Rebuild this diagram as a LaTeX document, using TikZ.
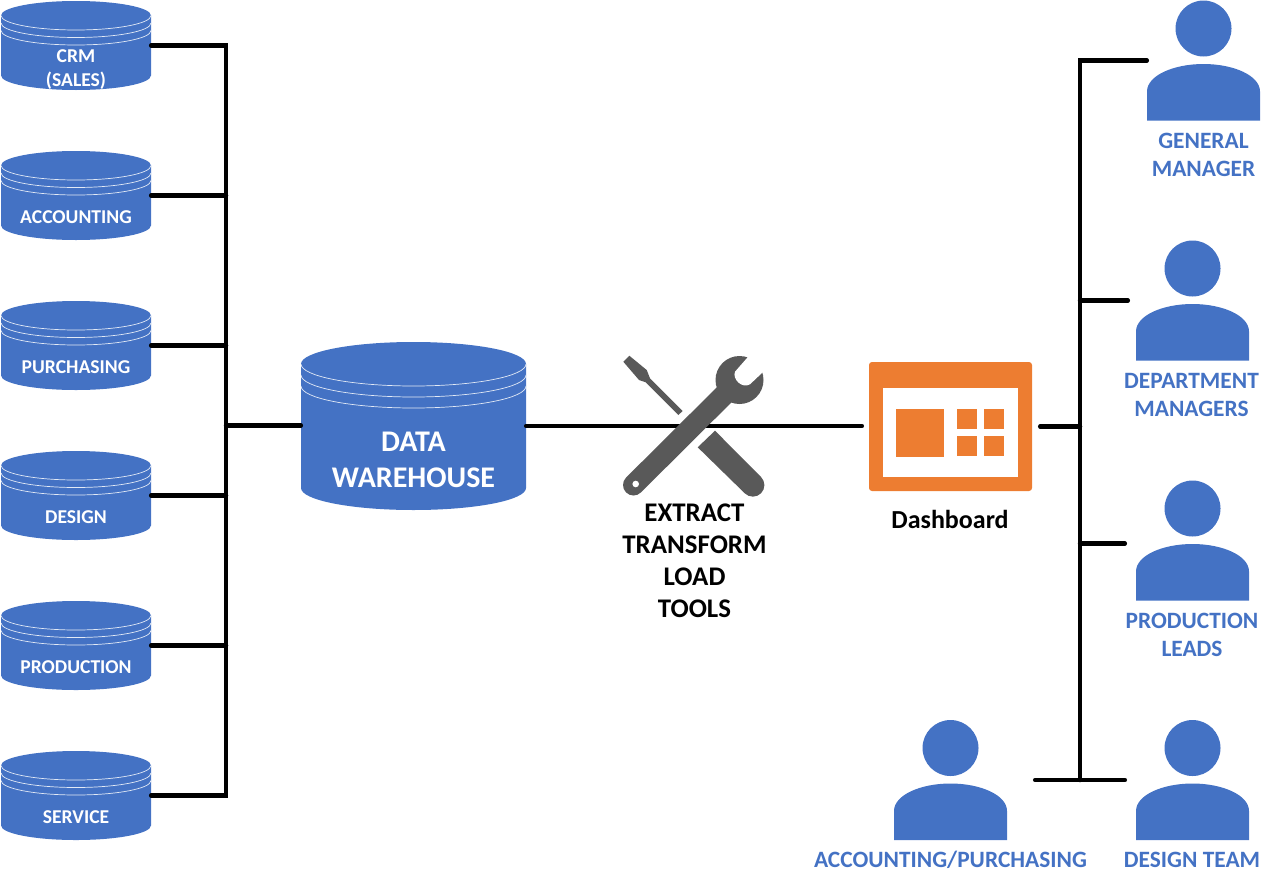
\documentclass[tikz,border=0pt]{standalone}
\usepackage{fontspec}
\setmainfont{Carlito}
\usepackage{tikz}
\usetikzlibrary{calc}
\definecolor{dbblue}{HTML}{4472C4}
\definecolor{dashorange}{HTML}{ED7D31}
\definecolor{toolgray}{HTML}{595959}
\newcommand{\dbshape}[4]{
	\begin{scope}[shift={(path picture bounding box.center)}]
		\fill[dbblue] (-#1,#2-#3) arc[x radius=#1,y radius=#3,start angle=180,end angle=0]
			-- (#1,-#2+#3) arc[x radius=#1,y radius=#3,start angle=0,end angle=-180] -- cycle;
		\foreach \k in {0,1,2}
			\draw[white!85!dbblue,line width=0.7pt] (-#1,#2-#3-\k*#4) arc[x radius=#1,y radius=#3,start angle=180,end angle=360];
	\end{scope}
}
\newcommand{\personshape}{
	\begin{scope}[shift={(path picture bounding box.center)}]
		\fill[dbblue] (0,32) circle[radius=28];
		\fill[dbblue] (-56.5,-60) -- (-56.5,-31) .. controls (-56.5,-15) and (-30,-3.5) .. (0,-3.5)
			.. controls (30,-3.5) and (56.5,-15) .. (56.5,-31) -- (56.5,-60) -- cycle;
	\end{scope}
}
\begin{document}
\begin{tikzpicture}[x=1pt,y=1pt,line cap=butt]

	\tikzstyle{db}=[rectangle,inner sep=0pt,minimum width=150pt,minimum height=89pt,path picture={\dbshape{75}{44.5}{14.5}{7.5}}]
	\tikzstyle{bigdb}=[rectangle,inner sep=0pt,minimum width=225pt,minimum height=168pt,path picture={\dbshape{112.5}{84}{22}{11}}]
	\tikzstyle{person}=[rectangle,inner sep=0pt,minimum width=113pt,minimum height=120pt,path picture={\personshape}]
	\tikzstyle{dblabel}=[text=white,font=\fontsize{19.6}{23.5}\selectfont\bfseries,align=center,inner sep=0pt]
	\tikzstyle{biglabel}=[text=white,font=\fontsize{30}{36}\selectfont\bfseries,align=center,inner sep=0pt]
	\tikzstyle{userlabel}=[text=dbblue,font=\fontsize{23.4}{28}\selectfont\bfseries,align=center,inner sep=0pt]
	\tikzstyle{blacklabel}=[text=black,font=\fontsize{26.9}{32}\selectfont\bfseries,align=center,inner sep=0pt]
	\tikzstyle{bus}=[draw=black,line width=4.5pt,line cap=round,line join=miter]

	\useasboundingbox (0,0) rectangle (1273,-886);

	\foreach \name/\ypos/\laby/\lab in {crm/45/69.5/{CRM\\(SALES)},acct/195/217.5/ACCOUNTING,purch/345/367.5/PURCHASING,design/495/517.5/DESIGN,prod/645/667.5/PRODUCTION,svc/795/817/SERVICE} {
		\node [db] (\name) at (76,-\ypos-0.5) {};
		\node [dblabel] (\name-text) at (76,-\laby) {\lab};
	}

	\node [bigdb] (dw) at (413.5,-426) {};
	\node [biglabel] (dw-text) at (413.5,-459.5) {DATA\\WAREHOUSE};

	\node [rectangle,fill=dashorange,rounded corners=3pt,minimum width=163pt,minimum height=129pt,inner sep=0pt] (dash) at (950.5,-426.5) {};
	\node [rectangle,fill=white,minimum width=135pt,minimum height=89pt,inner sep=0pt] (dash-win) at (950.5,-432.5) {};
	\node [rectangle,fill=dashorange,minimum size=48pt,inner sep=0pt] (dash-big) at (920,-433) {};
	\foreach \name/\xpos/\ypos in {a/967/-419.3,b/994.3/-419.3,c/967/-446,d/994.3/-446}
		\node [rectangle,fill=dashorange,minimum size=20pt,inner sep=0pt] (dash-\name) at (\xpos,\ypos) {};
	\node [blacklabel,font=\fontsize{26}{28}\selectfont\bfseries] (dash-text) at (950,-519.5) {Dashboard};

	\node [person] (gm) at (1203.5,-60.5) {};
	\node [person] (dm) at (1192.5,-300.5) {};
	\node [person] (pl) at (1192.5,-540.5) {};
	\node [person] (dt) at (1192.5,-780) {};
	\node [person] (ap) at (950.5,-780) {};

	\node [userlabel] (gm-text) at (1203.5,-155) {GENERAL\\MANAGER};
	\node [userlabel] (dm-text) at (1191.5,-395) {DEPARTMENT\\MANAGERS};
	\node [userlabel] (pl-text) at (1192,-635) {PRODUCTION\\LEADS};
	\node [userlabel] (dt-text) at (1192,-860) {DESIGN TEAM};
	\node [userlabel] (ap-text) at (950.5,-860) {ACCOUNTING/PURCHASING};

	\coordinate (lbus) at (226,-425.5);
	\coordinate (rbus) at (1080,-425.5);

	\draw [bus] (crm.east) -| (lbus) |- (svc.east);
	\foreach \name in {acct,purch,design,prod}
		\draw [bus] (\name.east) -- (\name.east -| lbus);
	\draw [bus] (lbus) -- (lbus -| dw.west);
	\draw [bus,shorten >=7pt] (dw.east) -- (dw.east -| dash.west);
	\draw [bus,shorten <=8pt] (dash.east) -- (dash.east -| rbus);
	\draw [bus] (gm.west) -| (rbus) -- (rbus |- dt.west);
	\draw [bus,shorten <=8pt] (dm.west) -- (dm.west -| rbus);
	\draw [bus,shorten <=11pt] ([yshift=-3pt]pl.west) -- ([yshift=-3pt]pl.west -| rbus);
	\draw [bus,shorten <=28pt,shorten >=11pt] (ap.east) -- (dt.west);

	\fill [toolgray] (623.3,-361.7) -- (629.3,-355.7) -- (646.7,-370) -- (650,-378.3) -- (682.7,-411) -- (678.3,-415) -- (645.7,-382.3) -- (639,-380) -- cycle;
	\fill [toolgray] (715,-430.7) -- (761,-477) arc[radius=11.5,start angle=45,end angle=-135] -- (697.7,-447.3) -- cycle;
	\draw [toolgray,line width=21pt,line cap=round] (633.5,-485) -- (730,-389);
	\fill [toolgray] (739.5,-380) circle[radius=24];
	\fill [white] (754,-350) -- (735,-371.7) .. controls (732,-379) and (742,-389) .. (750,-384.3) -- (772,-363.5) -- cycle;
	\fill [white] (635.7,-484) circle[radius=3.3];

	\node [blacklabel] (etl-text) at (694.5,-561) {EXTRACT\\TRANSFORM\\LOAD\\TOOLS};

\end{tikzpicture}
\end{document}
